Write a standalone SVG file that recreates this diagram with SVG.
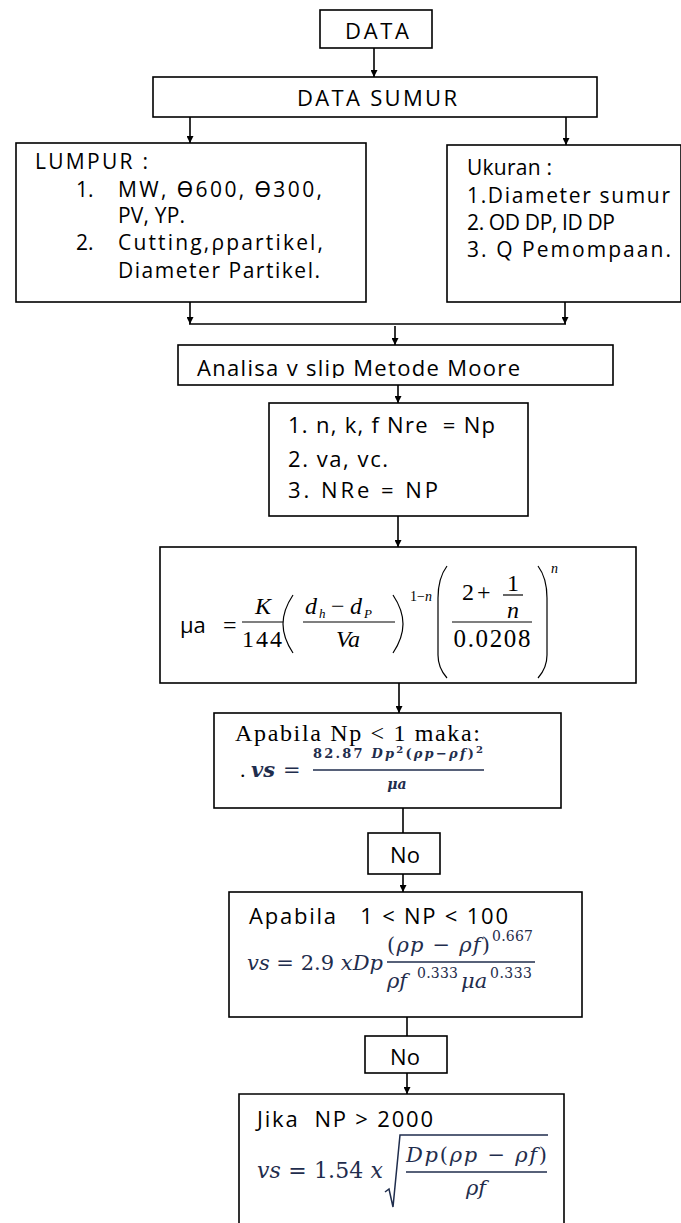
<svg xmlns="http://www.w3.org/2000/svg" width="681" height="1223" viewBox="0 0 681 1223">
<defs>
<style>
.box{fill:#fff;stroke:#000;stroke-width:1.6}
.t{font-family:"Open Sans","Noto Sans",sans-serif;font-size:22px;fill:#000}
.s{font-size:21px}
.m{font-family:"Liberation Serif","Times New Roman",serif;fill:#000}
.i{font-style:italic}
.c{font-family:"DejaVu Serif","Liberation Serif",serif;fill:#1f2d4d;font-style:italic}
.cu{font-style:normal}
.conn{stroke:#000;stroke-width:1.6;fill:none}
.fl{stroke:#000;stroke-width:1.2}
.fc{stroke:#1f2d4d;stroke-width:1.3}
</style>
<marker id="ah" markerWidth="7" markerHeight="7" refX="7" refY="3.5" orient="auto" markerUnits="userSpaceOnUse"><path d="M0,0 L7,3.5 L0,7 z" fill="#000"/></marker>
<clipPath id="clipA"><rect x="178" y="345" width="435" height="33"/></clipPath>
</defs>

<g id="connectors">
<line class="conn" x1="374" y1="48" x2="374" y2="77" marker-end="url(#ah)"/>
<line class="conn" x1="190" y1="117" x2="190" y2="143" marker-end="url(#ah)"/>
<line class="conn" x1="566" y1="117" x2="566" y2="145" marker-end="url(#ah)"/>
<line class="conn" x1="190" y1="302" x2="190" y2="324" marker-end="url(#ah)"/>
<line class="conn" x1="565" y1="302" x2="565" y2="324" marker-end="url(#ah)"/>
<line class="conn" x1="189" y1="324" x2="566" y2="324"/>
<line class="conn" x1="395" y1="326" x2="395" y2="345" marker-end="url(#ah)"/>
<line class="conn" x1="398" y1="385" x2="398" y2="403" marker-end="url(#ah)"/>
<line class="conn" x1="398" y1="516" x2="398" y2="547" marker-end="url(#ah)"/>
<line class="conn" x1="399" y1="683" x2="399" y2="713" marker-end="url(#ah)"/>
<line class="conn" x1="403" y1="808" x2="403" y2="833"/>
<line class="conn" x1="403" y1="874" x2="403" y2="892" marker-end="url(#ah)"/>
<line class="conn" x1="407" y1="1017" x2="407" y2="1036"/>
<line class="conn" x1="407" y1="1073" x2="407" y2="1094" marker-end="url(#ah)"/>
</g>

<g id="data">
<rect class="box" x="320" y="10" width="112" height="38"/>
<text class="t" x="377" y="39" text-anchor="middle" font-size="24" textLength="64" lengthAdjust="spacing">DATA</text>
</g>

<g id="data-sumur">
<rect class="box" x="153" y="77" width="444" height="40"/>
<text class="t" x="377" y="106" text-anchor="middle" font-size="24" textLength="160" lengthAdjust="spacing">DATA SUMUR</text>
</g>

<g id="lumpur">
<rect class="box" x="16" y="143" width="350" height="159"/>
<text class="t s" x="35" y="169" textLength="113" lengthAdjust="spacing">LUMPUR :</text>
<text class="t s" x="76" y="197">1.</text>
<text class="t s" x="118" y="197" textLength="204" lengthAdjust="spacing">MW, ϴ600, ϴ300,</text>
<text class="t s" x="118" y="223" textLength="67" lengthAdjust="spacing">PV, YP.</text>
<text class="t s" x="76" y="250">2.</text>
<text class="t s" x="118" y="250" textLength="205" lengthAdjust="spacing">Cutting,ρpartikel,</text>
<text class="t s" x="118" y="278" textLength="202" lengthAdjust="spacing">Diameter Partikel.</text>
</g>

<g id="ukuran">
<rect class="box" x="447" y="145" width="234" height="157"/>
<text class="t s" x="467" y="175" textLength="85" lengthAdjust="spacing">Ukuran :</text>
<text class="t s" x="467" y="203" textLength="203" lengthAdjust="spacing">1.Diameter sumur</text>
<text class="t s" x="467" y="230" textLength="148" lengthAdjust="spacing">2. OD DP, ID DP</text>
<text class="t s" x="467" y="257" textLength="204" lengthAdjust="spacing">3. Q Pemompaan.</text>
</g>

<g id="analisa">
<rect class="box" x="178" y="345" width="435" height="40"/>
<text class="t" x="197" y="376" font-size="23" clip-path="url(#clipA)" textLength="323" lengthAdjust="spacing">Analisa v slip Metode Moore</text>
</g>

<g id="langkah">
<rect class="box" x="269" y="403" width="259" height="113"/>
<text class="t" x="288" y="433" xml:space="preserve" textLength="207" lengthAdjust="spacing">1. n, k, f Nre  = Np</text>
<text class="t" x="288" y="467" textLength="100" lengthAdjust="spacing">2. va, vc.</text>
<text class="t" x="288" y="498" textLength="150" lengthAdjust="spacing">3. NRe = NP</text>
</g>

<g id="mu-a">
<rect class="box" x="160" y="547" width="476" height="136"/>
<text class="t" x="180" y="633" font-size="23">μa</text>
<text class="m" x="223" y="633" font-size="24">=</text>
<text class="m i" x="263" y="614" font-size="24" text-anchor="middle">K</text>
<line class="fl" x1="242" y1="622" x2="283" y2="622"/>
<text class="m" x="262" y="647" font-size="24" text-anchor="middle" textLength="40" lengthAdjust="spacing">144</text>
<path d="M293,595 Q283,610 283,624 Q283,638 293,653" fill="none" stroke="#000" stroke-width="1.2"/>
<text class="m i" x="305" y="614" font-size="24">d</text>
<text class="m i" x="319" y="618" font-size="13">h</text>
<text class="m" x="331" y="614" font-size="24">−</text>
<text class="m i" x="350" y="614" font-size="24">d</text>
<text class="m i" x="364" y="618" font-size="13">P</text>
<line class="fl" x1="303" y1="622" x2="395" y2="622"/>
<text class="m i" x="348" y="647" font-size="24" text-anchor="middle">Va</text>
<path d="M393,595 Q403,610 403,624 Q403,638 393,653" fill="none" stroke="#000" stroke-width="1.2"/>
<text class="m" x="410" y="601" font-size="14">1−<tspan class="i">n</tspan></text>
<path d="M447,566 Q438,578 438,598 L438,655 Q438,668 447,678" fill="none" stroke="#000" stroke-width="1.2"/>
<text class="m" x="462" y="600" font-size="24">2</text>
<text class="m" x="477" y="600" font-size="24">+</text>
<text class="m" x="507" y="591" font-size="24">1</text>
<line class="fl" x1="503" y1="595" x2="523" y2="595"/>
<text class="m i" x="507" y="618" font-size="24">n</text>
<line class="fl" x1="452" y1="622" x2="532" y2="622"/>
<text class="m" x="492" y="647" font-size="25" text-anchor="middle" textLength="77" lengthAdjust="spacing">0.0208</text>
<path d="M538,566 Q547,578 547,598 L547,655 Q547,668 538,678" fill="none" stroke="#000" stroke-width="1.2"/>
<text class="m i" x="551" y="573" font-size="14">n</text>
</g>

<g id="np-kurang-1">
<rect class="box" x="214" y="713" width="347" height="95"/>
<text class="m" x="235" y="741" font-size="24" textLength="245" lengthAdjust="spacing">Apabila Np &lt; 1 maka:</text>
<text class="m" x="240" y="777" font-size="22">.</text>
<text class="c" x="251" y="777" font-size="21" font-weight="bold">vs</text>
<text class="c cu" x="283" y="777" font-size="21">=</text>
<text class="c" x="313" y="758" font-size="13" font-weight="bold" textLength="170" lengthAdjust="spacing"><tspan class="cu">82.87 </tspan>Dp<tspan class="cu" font-size="10" dy="-5">2</tspan><tspan class="cu" dy="5">(</tspan>ρp<tspan class="cu">−</tspan>ρf<tspan class="cu">)</tspan><tspan class="cu" font-size="10" dy="-5">2</tspan></text>
<line class="fc" x1="313" y1="770" x2="484" y2="770"/>
<text class="c" x="397" y="789" font-size="14" font-weight="bold" text-anchor="middle">μa</text>
</g>

<g id="no-1">
<rect class="box" x="368" y="833" width="72" height="41"/>
<text class="t" x="405" y="863" text-anchor="middle" font-size="21">No</text>
</g>

<g id="np-1-100">
<rect class="box" x="229" y="892" width="353" height="125"/>
<text class="t" x="249" y="924" xml:space="preserve" textLength="259" lengthAdjust="spacing">Apabila   1 &lt; NP &lt; 100</text>
<text class="c" x="247" y="970" font-size="21" textLength="136" lengthAdjust="spacing">vs <tspan class="cu">= 2.9 </tspan>xDp</text>
<text class="c" x="387" y="952" font-size="21" textLength="103" lengthAdjust="spacing"><tspan class="cu">(</tspan>ρp <tspan class="cu">−</tspan> ρf<tspan class="cu">)</tspan></text>
<text class="c cu" x="492" y="941" font-size="14" textLength="41" lengthAdjust="spacing">0.667</text>
<line class="fc" x1="387" y1="962" x2="535" y2="962"/>
<text class="c" x="387" y="988" font-size="21">ρf</text>
<text class="c cu" x="417" y="978" font-size="14" textLength="41" lengthAdjust="spacing">0.333</text>
<text class="c" x="461" y="988" font-size="21">μa</text>
<text class="c cu" x="490" y="978" font-size="14" textLength="42" lengthAdjust="spacing">0.333</text>
</g>

<g id="no-2">
<rect class="box" x="365" y="1036" width="82" height="37"/>
<text class="t" x="405" y="1065" text-anchor="middle" font-size="21">No</text>
</g>

<g id="np-2000">
<path class="box" d="M239,1230 L239,1094 L564,1094 L564,1230"/>
<text class="t" x="257" y="1127" xml:space="preserve" textLength="176" lengthAdjust="spacing">Jika  NP &gt; 2000</text>
<text class="c" x="257" y="1178" font-size="22" textLength="126" lengthAdjust="spacing">vs <tspan class="cu">= 1.54 </tspan>x</text>
<path d="M385,1192 L389,1189 L393,1207 L400,1135 L548,1135" fill="none" stroke="#1f2d4d" stroke-width="1.5"/>
<text class="c" x="406" y="1162" font-size="21" textLength="141" lengthAdjust="spacing">Dp<tspan class="cu">(</tspan>ρp <tspan class="cu">−</tspan> ρf<tspan class="cu">)</tspan></text>
<line class="fc" x1="406" y1="1172" x2="547" y2="1172"/>
<text class="c" x="476" y="1195" font-size="21" text-anchor="middle">ρf</text>
</g>
</svg>
